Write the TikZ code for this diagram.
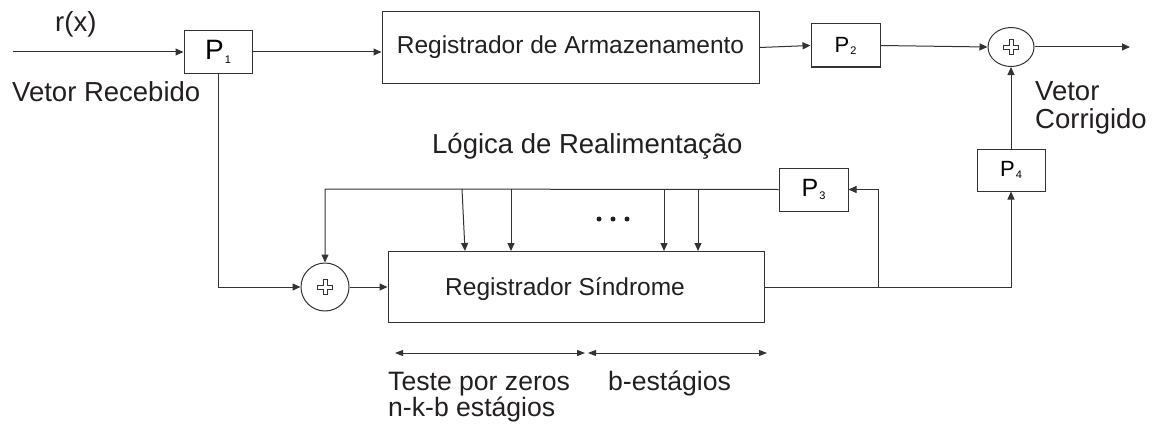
\documentclass[tikz,border=0pt]{standalone}
\usepackage{fontspec}
\setmainfont{Liberation Sans}
\usetikzlibrary{arrows.meta,shapes.geometric,calc}
\definecolor{ink}{HTML}{231F20}
\definecolor{wire}{HTML}{333333}
\tikzset{
  box/.style={draw=wire, line width=1pt, inner sep=0pt, rectangle},
  adder/.style={draw=wire, line width=1pt, ellipse, inner sep=0pt},
  wireline/.style={draw=wire, line width=1pt},
  arr/.style={wireline, -{Triangle[length=8pt,width=7pt]}},
  darr/.style={wireline, {Triangle[length=8pt,width=6pt]}-{Triangle[length=8pt,width=6pt]}},
  txt/.style={text=ink, inner sep=0pt, anchor=base west},
  dot/.style={circle, fill=ink, inner sep=0pt, minimum size=5pt},
}
\newcommand{\bigtxt}{\fontsize{27.5}{28}\selectfont}
\newcommand{\boxtxt}{\fontsize{24.5}{25}\selectfont}
\newcommand{\plussign}[1]{%
  \draw[wire, line width=0.7pt, shift={(#1)}] (2,7.5) -- (2,2) -- (7.5,2) -- (7.5,-2) -- (2,-2) -- (2,-7.5) -- (-2,-7.5) -- (-2,-2) -- (-7.5,-2) -- (-7.5,2) -- (-2,2) -- (-2,7.5) -- cycle;}
\begin{document}
\begin{tikzpicture}[x=1pt,y=-1pt]
\useasboundingbox (0,0) rectangle (1153,428);

% boxes
\node[box, minimum width=68pt, minimum height=42pt] (P1) at (218,52) {\fontsize{28}{28}\selectfont P\kern1pt\raisebox{-4pt}{\fontsize{11}{11}\selectfont 1}};
\node[box, minimum width=377pt, minimum height=71pt, text=ink] (arm) at (570.5,47.5) {\boxtxt Registrador de Armazenamento};
\node[box, minimum width=69pt, minimum height=43pt] (P2) at (845.5,45.5) {\fontsize{22}{22}\selectfont P\kern1pt\raisebox{-2pt}{\fontsize{11}{11}\selectfont 2}};
\node[adder, minimum width=46pt, minimum height=39pt] (add1) at (1011,47) {};
\plussign{1011,47}
\node[box, minimum width=68pt, minimum height=42pt] (P4) at (1011,170) {\fontsize{22}{22}\selectfont P\kern1pt\raisebox{-2pt}{\fontsize{11}{11}\selectfont 4}};
\node[box, minimum width=69pt, minimum height=43pt] (P3) at (813.5,189.5) {\fontsize{25}{25}\selectfont P\kern1pt\raisebox{-3pt}{\fontsize{11}{11}\selectfont 3}};
\node[adder, minimum width=48pt, minimum height=48pt] (add2) at (325,287) {};
\plussign{325,287}
\node[box, minimum width=376pt, minimum height=71pt] (syn) at (576,286.5) {};
\node[txt] (syntxt) at (445,295) {\boxtxt Registrador Síndrome};

% texts
\node[txt] (rx) at (55,32) {\bigtxt r(x)};
\node[txt] (vrec) at (12,101) {\bigtxt Vetor Recebido};
\node[txt] (logica) at (432,153) {\bigtxt Lógica de Realimentação};
\node[txt] (vet) at (1035,100) {\bigtxt Vetor};
\node[txt] (corr) at (1035,128) {\bigtxt Corrigido};
\node[txt] (teste) at (388,390) {\fontsize{26.6}{27}\selectfont Teste por zeros};
\node[txt] (nkb) at (388,416) {\fontsize{26.6}{27}\selectfont n-k-b estágios};
\node[txt] (best) at (608,390) {\fontsize{26.6}{27}\selectfont b-estágios};
\node[dot] (dA) at (599,219) {};
\node[dot] (dB) at (613,219) {};
\node[dot] (dC) at (627,219) {};

% coordinates
\coordinate (in) at (13,52);
\coordinate (out) at (1130,47);
\coordinate (c1) at (218,287);
\coordinate (br) at (878,287);
\coordinate (c4) at (1011,287);
\coordinate (fbL) at (325,189);
\coordinate (t1a) at (462,189); \coordinate (t1b) at (465,251);
\coordinate (t2a) at (511,189); \coordinate (t2b) at (511,251);
\coordinate (t3a) at (664,189); \coordinate (t3b) at (664,251);
\coordinate (t4a) at (698,189); \coordinate (t4b) at (698,251);
\coordinate (d1) at (395,353); \coordinate (d2) at (585,353);
\coordinate (d3) at (588,353); \coordinate (d4) at (767,353);

% connectors
\draw[arr] (in) -- (P1.west);
\draw[arr] (P1.east) -- (P1.east -| arm.west);
\draw[arr] (arm.east) -- (P2.west);
\draw[arr] (P2.east) -- (add1.west);
\draw[arr] (add1.east) -- (out);
\draw[arr] (P4.north) -- (add1.south);
\draw[arr] (P1.south) -- (c1) -- (add2.west);
\draw[arr] (add2.east) -- (add2.east -| syn.west);
\draw[arr] (syn.east |- c4) -- (c4) -- (P4.south);
\draw[arr] (br) -- (br |- P3.east) -- (P3.east);
\draw[arr] (P3.west) -- (fbL) -- (add2.north);
\draw[arr] (t1a) -- (t1b);
\draw[arr] (t2a) -- (t2b);
\draw[arr] (t3a) -- (t3b);
\draw[arr] (t4a) -- (t4b);
\draw[darr] (d1) -- (d2);
\draw[darr] (d3) -- (d4);
\end{tikzpicture}
\end{document}
